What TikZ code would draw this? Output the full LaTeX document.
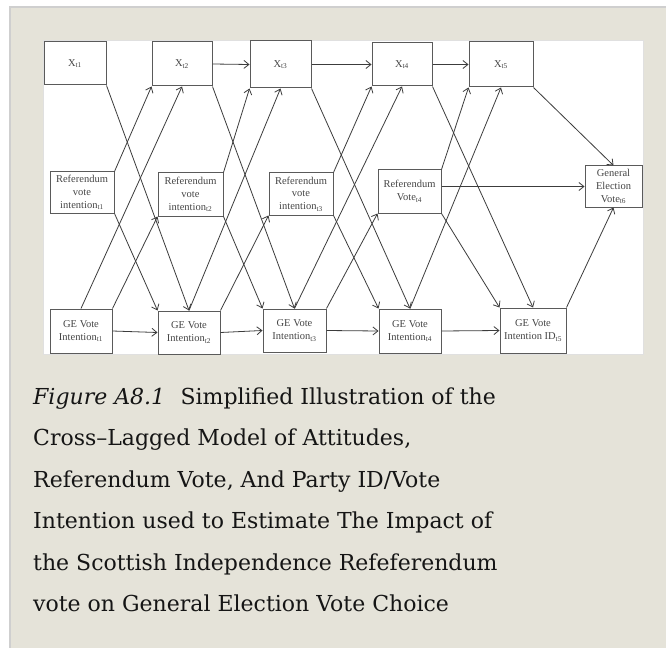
\documentclass[tikz,border=0pt]{standalone}
\usepackage{fontspec}
\setmainfont{Liberation Serif}
\newfontfamily\capfont{DejaVu Serif}
\usetikzlibrary{arrows.meta}
\definecolor{panelbg}{HTML}{E5E3D9}
\definecolor{panelline}{HTML}{CFCFCF}
\definecolor{boxline}{HTML}{5A5A5A}
\definecolor{arrowcol}{HTML}{3C3C3C}
\definecolor{boxtext}{HTML}{454545}
\definecolor{captext}{HTML}{151515}
\begin{document}
\begin{tikzpicture}[x=1bp,y=-1bp,
  box/.style={draw=boxline,line width=1bp,fill=white,inner sep=0pt,align=center,
    font=\fontsize{10.5bp}{12.8bp}\selectfont,text=boxtext},
  link/.style={draw=arrowcol,line width=0.8bp,-{Straight Barb[length=5bp,width=8bp]}},
  capline/.style={anchor=base west,inner sep=0pt,
    font=\capfont\fontsize{22bp}{41.5bp}\selectfont,text=captext}]
\useasboundingbox (0,0) rectangle (666,648);
\fill[white] (0,0) rectangle (666,648);
\fill[panelbg] (10,7) rectangle (666,648);
\draw[panelline,line width=2bp] (10,648) -- (10,7) -- (666,7);
\fill[white] (43,40) rectangle (643,354);
\draw[black!12,line width=0.8bp] (43,40) rectangle (643,354);

% top row
\node[box,minimum width=62bp,minimum height=43bp] (X1) at (75,63.5) {X\textsubscript{t1}};
\node[box,minimum width=60bp,minimum height=44bp] (X2) at (182,64) {X\textsubscript{t2}};
\node[box,minimum width=61bp,minimum height=47bp] (X3) at (280.5,64.5) {X\textsubscript{t3}};
\node[box,minimum width=60bp,minimum height=43bp] (X4) at (402,64.5) {X\textsubscript{t4}};
\node[box,minimum width=64bp,minimum height=45bp] (X5) at (501,64.5) {X\textsubscript{t5}};
% middle row
\node[box,minimum width=64bp,minimum height=41bp] (R1) at (82,192.5) {Referendum\\vote\\intention\textsubscript{t1}};
\node[box,minimum width=65bp,minimum height=43bp] (R2) at (190.5,194.5) {Referendum\\vote\\intention\textsubscript{t2}};
\node[box,minimum width=64bp,minimum height=42bp] (R3) at (301,194) {Referendum\\vote\\intention\textsubscript{t3}};
\node[box,minimum width=63bp,minimum height=43bp] (R4) at (409.5,191.5) {Referendum\\Vote\textsubscript{t4}};
\node[box,minimum width=57bp,minimum height=41bp] (GEB) at (613.5,186.5) {General\\Election\\Vote\textsubscript{t6}};
% bottom row
\node[box,minimum width=62bp,minimum height=44bp] (G1) at (81,331) {GE Vote\\Intention\textsubscript{t1}};
\node[box,minimum width=62bp,minimum height=43bp] (G2) at (189,332.5) {GE Vote\\Intention\textsubscript{t2}};
\node[box,minimum width=63bp,minimum height=43bp] (G3) at (294.5,330.5) {GE Vote\\Intention\textsubscript{t3}};
\node[box,minimum width=62bp,minimum height=44bp] (G4) at (410,331) {GE Vote\\Intention\textsubscript{t4}};
\node[box,minimum width=66bp,minimum height=45bp] (G5) at (533,330.5) {GE Vote\\Intention ID\textsubscript{t5}};

% horizontal links
\draw[link] (X2.east) -- (X3.west);
\draw[link] (X3.east) -- (X4.west);
\draw[link] (X4.east) -- (X5.west);
\draw[link] (G1.east) -- (G2.west);
\draw[link] (G2.east) -- (G3.west);
\draw[link] (G3.east) -- (G4.west);
\draw[link] (G4.east) -- (G5.west);
\draw[link] (R4.east |- GEB.west) -- (GEB.west);
\draw[link] (X5.south east) -- (GEB.north);
\draw[link] (G5.north east) -- (GEB.south);

% cross-lagged links t1 -> t2
\draw[link] (X1.south east) -- (G2.north);
\draw[link] (R1.north east) -- (X2.south west);
\draw[link] (R1.south east) -- (G2.north west);
\draw[link] (G1.north) -- (X2.south);
\draw[link] (G1.north east) -- (R2.south west);
% t2 -> t3
\draw[link] (X2.south east) -- (G3.north);
\draw[link] (R2.north east) -- (X3.south west);
\draw[link] (R2.south east) -- (G3.north west);
\draw[link] (G2.north) -- (X3.south);
\draw[link] (G2.north east) -- (R3.south west);
% t3 -> t4
\draw[link] (X3.south east) -- (G4.north);
\draw[link] (R3.north east) -- (X4.south west);
\draw[link] (R3.south east) -- (G4.north west);
\draw[link] (G3.north) -- (X4.south);
\draw[link] (G3.north east) -- (R4.south west);
% t4 -> t5
\draw[link] (X4.south east) -- (G5.north);
\draw[link] (R4.north east) -- (X5.south west);
\draw[link] (R4.south east) -- (G5.north west);
\draw[link] (G4.north) -- (X5.south);

% caption
\node[capline] (cap1) at (33,404) {\textit{Figure A8.1}\hspace{0.7em}Simplified Illustration of the};
\node[capline] (cap2) at (33,445.5) {Cross–Lagged Model of Attitudes,};
\node[capline] (cap3) at (33,487) {Referendum Vote, And Party ID/Vote};
\node[capline] (cap4) at (33,528.5) {Intention used to Estimate The Impact of};
\node[capline] (cap5) at (33,570) {the Scottish Independence Refeferendum};
\node[capline] (cap6) at (33,611.5) {vote on General Election Vote Choice};
\end{tikzpicture}
\end{document}
